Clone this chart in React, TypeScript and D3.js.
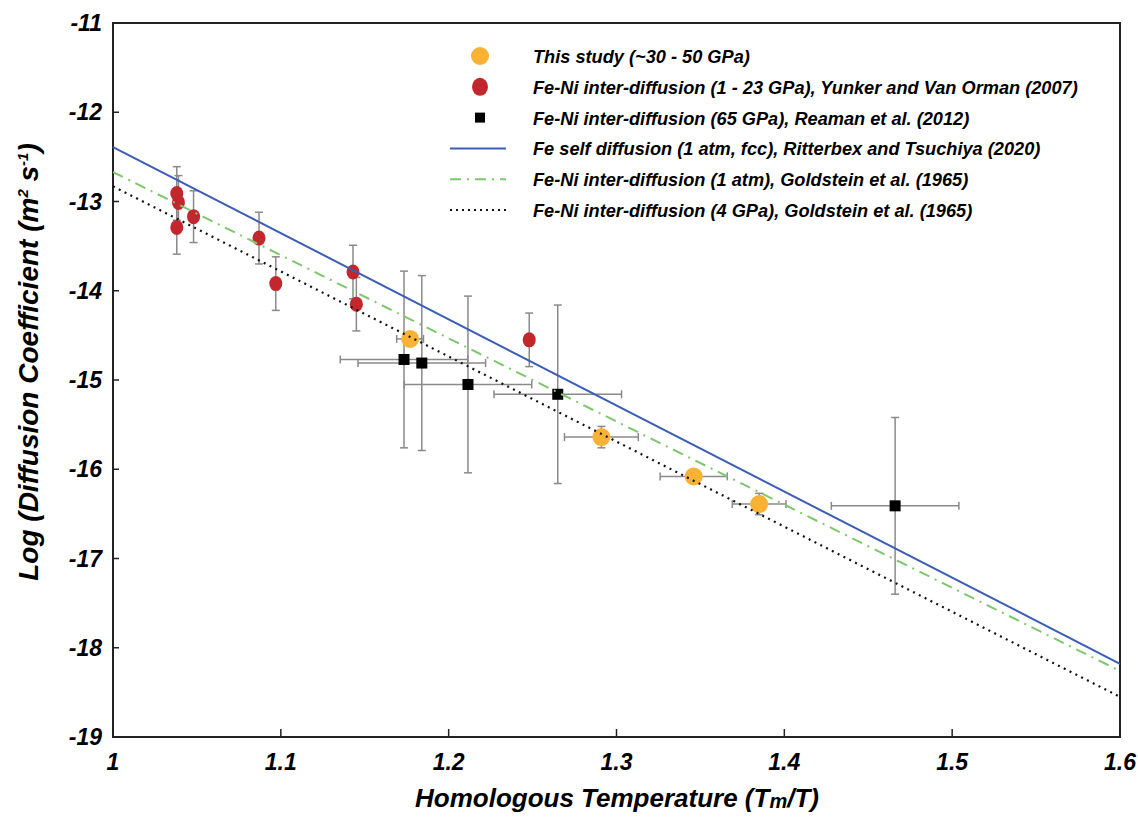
import React from "react";
import * as d3 from "d3";

// This study (~30 - 50 GPa)
const studyX = [1.177, 1.291, 1.346, 1.385];
const studyY = [-14.54, -15.64, -16.08, -16.39];
const studyXErr = [0.008, 0.022, 0.02, 0.016];
const studyYErr = [0.05, 0.12, 0.06, 0.12];

// Yunker and Van Orman (2007)
const yunkerX = [1.038, 1.039, 1.038, 1.048, 1.087, 1.097, 1.143, 1.145, 1.248];
const yunkerY = [-12.91, -13.01, -13.29, -13.17, -13.41, -13.92, -13.79, -14.15, -14.55];
const yunkerYErr = [0.3, 0.3, 0.3, 0.29, 0.29, 0.3, 0.3, 0.3, 0.3];

// Reaman et al. (2012)
const reamanX = [1.1734, 1.184, 1.2115, 1.265, 1.466];
const reamanY = [-14.77, -14.81, -15.05, -15.16, -16.41];
const reamanXErr = [0.038, 0.038, 0.038, 0.038, 0.038];
const reamanYErr = [0.99, 0.98, 0.99, 1.0, 0.99];

// fitted lines, value at x = 1 and x = 1.6
const lineX = [1, 1.6];
const ritterbexY = [-12.39, -18.18];
const goldstein1atmY = [-12.67, -18.26];
const goldstein4GPaY = [-12.83, -18.55];

const xTicks = [1, 1.1, 1.2, 1.3, 1.4, 1.5, 1.6];
const yTicks = [-11, -12, -13, -14, -15, -16, -17, -18, -19];

const legendLabels = [
  "This study (~30 - 50 GPa)",
  "Fe-Ni inter-diffusion (1 - 23 GPa), Yunker and Van Orman (2007)",
  "Fe-Ni inter-diffusion (65 GPa), Reaman et al. (2012)",
  "Fe self diffusion (1 atm, fcc), Ritterbex and Tsuchiya (2020)",
  "Fe-Ni inter-diffusion (1 atm), Goldstein et al. (1965)",
  "Fe-Ni inter-diffusion (4 GPa), Goldstein et al. (1965)",
];

const W = 1138;
const H = 822;
const FONT = "'Liberation Sans', Arial, sans-serif";
const ORANGE = "#f9b233";
const RED = "#c1272d";
const BLUE = "#3a5db5";
const GREEN = "#7cc86a";
const ERR = "#8a8a8a";

export default function App() {
  const x = d3.scaleLinear().domain([1, 1.6]).range([113, 1120]);
  const y = d3.scaleLinear().domain([-19, -11]).range([737, 23]);
  const line = d3
    .line<number>()
    .x((d, i) => x(lineX[i]))
    .y((d) => y(d));

  const cap = 4;
  const vErr = (cx: number, cy: number, e: number, key: string) => (
    <g key={key} stroke={ERR} strokeWidth={1.5}>
      <line x1={x(cx)} x2={x(cx)} y1={y(cy + e)} y2={y(cy - e)} />
      <line x1={x(cx) - cap} x2={x(cx) + cap} y1={y(cy + e)} y2={y(cy + e)} />
      <line x1={x(cx) - cap} x2={x(cx) + cap} y1={y(cy - e)} y2={y(cy - e)} />
    </g>
  );
  const hErr = (cx: number, cy: number, e: number, key: string) => (
    <g key={key} stroke={ERR} strokeWidth={1.5}>
      <line x1={x(cx - e)} x2={x(cx + e)} y1={y(cy)} y2={y(cy)} />
      <line x1={x(cx - e)} x2={x(cx - e)} y1={y(cy) - cap} y2={y(cy) + cap} />
      <line x1={x(cx + e)} x2={x(cx + e)} y1={y(cy) - cap} y2={y(cy) + cap} />
    </g>
  );

  const legY = (i: number) => 56 + i * 30.8;

  return (
    <svg
      width={W}
      height={H}
      style={{ position: "absolute", left: 0, top: 0, background: "#fff" }}
      fontFamily={FONT}
    >
      {/* frame */}
      <rect x={113} y={23} width={1007} height={714} fill="none" stroke="#222" strokeWidth={2} />
      {xTicks.map((t) => (
        <g key={"xt" + t}>
          <line x1={x(t)} x2={x(t)} y1={737} y2={729} stroke="#222" strokeWidth={1.5} />
          <text
            x={x(t)}
            y={770}
            textAnchor="middle"
            fontSize={23}
            fontWeight="bold"
            fontStyle="italic"
          >
            {t}
          </text>
        </g>
      ))}
      {yTicks.map((t) => (
        <g key={"yt" + t}>
          <line x1={113} x2={119} y1={y(t)} y2={y(t)} stroke="#222" strokeWidth={1.5} />
          <text
            x={102}
            y={y(t) + 8}
            textAnchor="end"
            fontSize={23}
            fontWeight="bold"
            fontStyle="italic"
          >
            {t}
          </text>
        </g>
      ))}

      {/* axis titles */}
      <text
        x={617}
        y={807}
        textAnchor="middle"
        fontSize={26}
        fontWeight="bold"
        fontStyle="italic"
      >
        Homologous Temperature (T<tspan fontSize={20} dy={1}>m</tspan>
        <tspan dy={-1}>/T)</tspan>
      </text>
      <text
        transform="translate(38,362) rotate(-90)"
        textAnchor="middle"
        fontSize={28}
        fontWeight="bold"
        fontStyle="italic"
      >
        Log (Diffusion Coefficient (m<tspan fontSize={15} dy={-10}>2</tspan>
        <tspan dy={10}> s</tspan>
        <tspan fontSize={15} dy={-10}>-1</tspan>
        <tspan dy={10}>)</tspan>
      </text>

      {/* error bars */}
      {yunkerX.map((d, i) => vErr(d, yunkerY[i], yunkerYErr[i], "yv" + i))}
      {reamanX.map((d, i) => vErr(d, reamanY[i], reamanYErr[i], "rv" + i))}
      {reamanX.map((d, i) => hErr(d, reamanY[i], reamanXErr[i], "rh" + i))}
      {studyX.map((d, i) => vErr(d, studyY[i], studyYErr[i], "sv" + i))}
      {studyX.map((d, i) => hErr(d, studyY[i], studyXErr[i], "sh" + i))}

      {/* markers */}
      {yunkerX.map((d, i) => (
        <ellipse key={"ym" + i} cx={x(d)} cy={y(yunkerY[i])} rx={6.5} ry={7.5} fill={RED} />
      ))}
      {reamanX.map((d, i) => (
        <rect key={"rm" + i} x={x(d) - 5.5} y={y(reamanY[i]) - 5.5} width={11} height={11} fill="#000" />
      ))}
      {studyX.map((d, i) => (
        <circle key={"sm" + i} cx={x(d)} cy={y(studyY[i])} r={9} fill={ORANGE} />
      ))}

      {/* lines */}
      <path d={line(ritterbexY) || ""} fill="none" stroke={BLUE} strokeWidth={2} />
      <path
        d={line(goldstein1atmY) || ""}
        fill="none"
        stroke={GREEN}
        strokeWidth={2}
        strokeDasharray="11,6,2,6"
      />
      <path
        d={line(goldstein4GPaY) || ""}
        fill="none"
        stroke="#111"
        strokeWidth={2.2}
        strokeDasharray="2,4.5"
      />

      {/* legend */}
      <circle cx={480} cy={legY(0)} r={9} fill={ORANGE} />
      <ellipse cx={480} cy={legY(1)} rx={8} ry={9} fill={RED} />
      <rect x={475} y={legY(2) - 5} width={10} height={10} fill="#000" />
      <line x1={450} x2={506} y1={legY(3)} y2={legY(3)} stroke={BLUE} strokeWidth={2} />
      <line
        x1={450}
        x2={506}
        y1={legY(4)}
        y2={legY(4)}
        stroke={GREEN}
        strokeWidth={2}
        strokeDasharray="11,6,2,6"
      />
      <line
        x1={450}
        x2={506}
        y1={legY(5)}
        y2={legY(5)}
        stroke="#111"
        strokeWidth={2}
        strokeDasharray="2,4"
      />
      {legendLabels.map((l, i) => (
        <text
          key={"lg" + i}
          x={533}
          y={legY(i) + 7}
          fontSize={18.2}
          fontWeight="bold"
          fontStyle="italic"
        >
          {l}
        </text>
      ))}
    </svg>
  );
}
